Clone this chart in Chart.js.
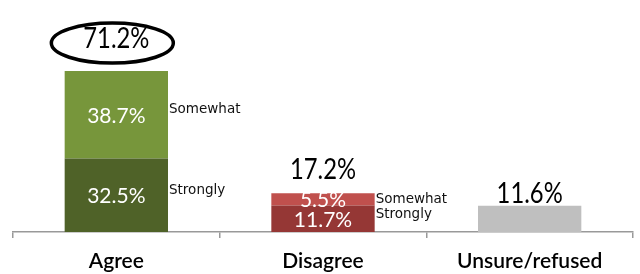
<!DOCTYPE html>
<html>
<head>
<meta charset="utf-8">
<script src="https://cdn.jsdelivr.net/npm/chart.js@4.4.1/dist/chart.umd.min.js"></script>
<style>
html,body{margin:0;padding:0;background:#fff;}
#wrap{width:640px;height:274px;}
</style>
</head>
<body>
<div id="wrap"><canvas id="chart" width="640" height="274"></canvas></div>
<script>
//=============================
// DATA
//=============================

const categories = ["Agree", "Disagree", "Unsure/refused"];

const strongly = [32.5, 11.7, null];
const somewhat = [38.7, 5.5, null];
const unsure = [null, null, 11.6];

const totals = ["71.2%", "17.2%", "11.6%"];

//=============================
// LABEL PLUGIN
//=============================

const labelPlugin = {
    id: "labels",
    afterDatasetsDraw(chart){

        const ctx = chart.ctx;
        const low = chart.getDatasetMeta(0).data;
        const high = chart.getDatasetMeta(1).data;
        const grey = chart.getDatasetMeta(2).data;

        ctx.save();
        ctx.textAlign = "center";
        ctx.textBaseline = "alphabetic";

        // values inside the segments
        ctx.fillStyle = "#ffffff";
        ctx.font = "21px Lato";
        [[low, strongly], [high, somewhat]].forEach(([bars, vals]) => {
            bars.forEach((b, i) => {
                if(vals[i] == null) return;
                const mid = (b.y + b.base) / 2;
                ctx.fillText(vals[i].toFixed(1) + "%", b.x, mid + 8);
            });
        });

        // Somewhat / Strongly side texts
        ctx.textAlign = "left";
        ctx.textBaseline = "middle";
        ctx.fillStyle = "#111";
        ctx.font = "13.5px 'DejaVu Sans'";
        const lift = [5, 0];
        low.forEach((b, i) => {
            if(strongly[i] == null) return;
            const h = high[i];
            ctx.fillText("Somewhat", h.x + h.width / 2 + 1, (h.y + h.base) / 2 - lift[i]);
            ctx.fillText("Strongly", b.x + b.width / 2 + 1, (b.y + b.base) / 2 - lift[i] - (i ? 4 : 0));
        });

        // totals above the bars (slightly condensed, like the original face)
        const gaps = [23, 14, 3];
        ctx.textAlign = "center";
        ctx.textBaseline = "alphabetic";
        ctx.fillStyle = "#000";
        ctx.font = "28px Lato";
        const tops = [high[0].y, high[1].y, grey[2].y];
        tops.forEach((y, i) => {
            ctx.save();
            ctx.translate(low[i].x, y - gaps[i]);
            ctx.scale(0.85, 1);
            ctx.fillText(totals[i], 0, 0);
            ctx.restore();
        });

        // ellipse round the Agree total
        ctx.beginPath();
        ctx.lineWidth = 3.5;
        ctx.strokeStyle = "#000";
        ctx.ellipse(low[0].x - 4, tops[0] - 28, 61, 20, 0, 0, Math.PI * 2);
        ctx.stroke();

        ctx.restore();
    }
};

//=============================
// CHART
//=============================

new Chart(document.getElementById("chart"), {
    type: "bar",
    data: {
        labels: categories,
        datasets: [
            { label: "Strongly", data: strongly, backgroundColor: ["#4f6228", "#953735", "#bfbfbf"] },
            { label: "Somewhat", data: somewhat, backgroundColor: ["#77963b", "#c0504d", "#bfbfbf"] },
            { label: "Unsure", data: unsure, backgroundColor: "#bfbfbf" }
        ]
    },
    options: {
        responsive: false,
        animation: false,
        layout: { padding: { left: 13, right: 7, top: 6, bottom: 0 } },
        datasets: {
            bar: { categoryPercentage: 1, barPercentage: 0.5, borderWidth: 0 }
        },
        plugins: {
            legend: { display: false },
            tooltip: { enabled: false }
        },
        scales: {
            x: {
                stacked: true,
                afterFit(scale){ scale.height = 42; },
                grid: {
                    offset: true,
                    drawOnChartArea: false,
                    tickLength: 6,
                    color: "#999",
                    lineWidth: 1.5
                },
                border: { display: true, color: "#999", width: 1.5 },
                ticks: {
                    color: "#000",
                    padding: 11,
                    font: { family: "Lato", size: 21, weight: "600" }
                }
            },
            y: {
                stacked: true,
                display: false,
                min: 0,
                max: 100
            }
        }
    },
    plugins: [labelPlugin]
});
</script>
</body>
</html>
